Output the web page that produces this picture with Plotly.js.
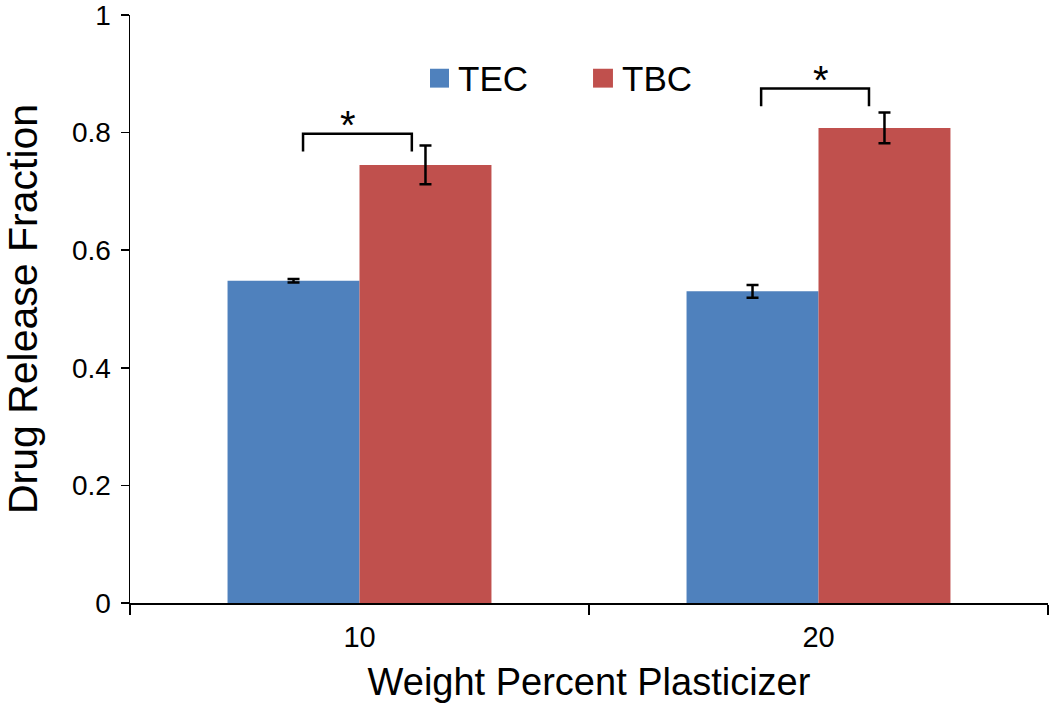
<!DOCTYPE html>
<html>
<head>
<meta charset="utf-8">
<script src="https://cdn.plot.ly/plotly-3.0.1.min.js"></script>
<style>html,body{margin:0;padding:0;background:#fff;}#chart{width:1050px;height:709px;}</style>
</head>
<body>
<div id="chart"></div>
<script>
const categories = ["10", "20"];
const tecValues = [0.548, 0.530];
const tecErrors = [0.003, 0.011];
const tbcValues = [0.745, 0.808];
const tbcErrors = [0.033, 0.026];
const seriesNames = ["TEC", "TBC"];
const yTickVals = [0, 0.2, 0.4, 0.6, 0.8, 1];
const yTickText = ["0", "0.2", "0.4", "0.6", "0.8", "1"];
// significance brackets in data units
const brackets = [
  {x0: -0.123, x1: 0.114, top: 0.798, end: 0.768, starX: -0.025, starY: 0.813},
  {x0: 0.875, x1: 1.110, top: 0.875, end: 0.845, starX: 1.005, starY: 0.890}
];

const font = "Liberation Sans, Arial, sans-serif";
const colors = ["#4F81BD", "#C0504D"];

const traces = [
  {type: "bar", name: seriesNames[0], x: categories, y: tecValues,
   marker: {color: colors[0]},
   error_y: {type: "data", array: tecErrors, visible: true, color: "#000", thickness: 2.5, width: 6}},
  {type: "bar", name: seriesNames[1], x: categories, y: tbcValues,
   marker: {color: colors[1]},
   error_y: {type: "data", array: tbcErrors, visible: true, color: "#000", thickness: 2.5, width: 6}}
];

const shapes = [];
const annotations = [];
brackets.forEach(b => {
  shapes.push({type: "path", xref: "x", yref: "y",
    path: `M ${b.x0} ${b.end} L ${b.x0} ${b.top} L ${b.x1} ${b.top} L ${b.x1} ${b.end}`,
    line: {color: "#000", width: 2.5}});
  annotations.push({xref: "x", yref: "y", x: b.starX, y: b.starY, text: "*", showarrow: false,
    font: {family: font, size: 40, color: "#000"}, yanchor: "middle"});
});

// manual legend
const legendItems = [
  {sx0: 0.3268, sx1: 0.3475, tx: 0.355, label: seriesNames[0], color: colors[0]},
  {sx0: 0.5044, sx1: 0.5261, tx: 0.534, label: seriesNames[1], color: colors[1]}
];
legendItems.forEach(it => {
  shapes.push({type: "rect", xref: "paper", yref: "paper", x0: it.sx0, x1: it.sx1, y0: 0.8765, y1: 0.9086,
    fillcolor: it.color, line: {width: 0}});
  annotations.push({xref: "paper", yref: "paper", x: it.tx, y: 0.8926, xanchor: "left", yanchor: "middle",
    text: it.label, showarrow: false, font: {family: font, size: 35, color: "#000"}});
});

const layout = {
  width: 1050, height: 709,
  margin: {l: 130, r: 2, t: 15, b: 106},
  paper_bgcolor: "#fff", plot_bgcolor: "#fff",
  barmode: "group", bargap: 0.425, bargroupgap: 0,
  showlegend: false,
  font: {family: font, color: "#000"},
  xaxis: {type: "category", showline: true, linecolor: "#000", linewidth: 1.5,
    ticks: "outside", tickson: "boundaries", ticklen: 10, tickwidth: 1.5, tickcolor: "#000",
    tickfont: {family: font, size: 29, color: "#000"}, showgrid: false, zeroline: false,
    ticklabelstandoff: 8,
    title: {text: "Weight Percent Plasticizer", font: {family: font, size: 38, color: "#000"}, standoff: 16}},
  yaxis: {range: [0, 1], tickvals: yTickVals, ticktext: yTickText, showline: true, linecolor: "#000", linewidth: 1.5,
    ticks: "outside", ticklen: 8, tickwidth: 1.5, tickcolor: "#000", ticklabeloverflow: "allow",
    tickfont: {family: font, size: 28, color: "#000"}, showgrid: false, zeroline: false,
    ticklabelstandoff: 4,
    title: {text: "Drug Release Fraction", font: {family: font, size: 41, color: "#000"}, standoff: 22}},
  shapes: shapes,
  annotations: annotations
};

Plotly.newPlot("chart", traces, layout, {displayModeBar: false, staticPlot: true});
</script>
</body>
</html>
